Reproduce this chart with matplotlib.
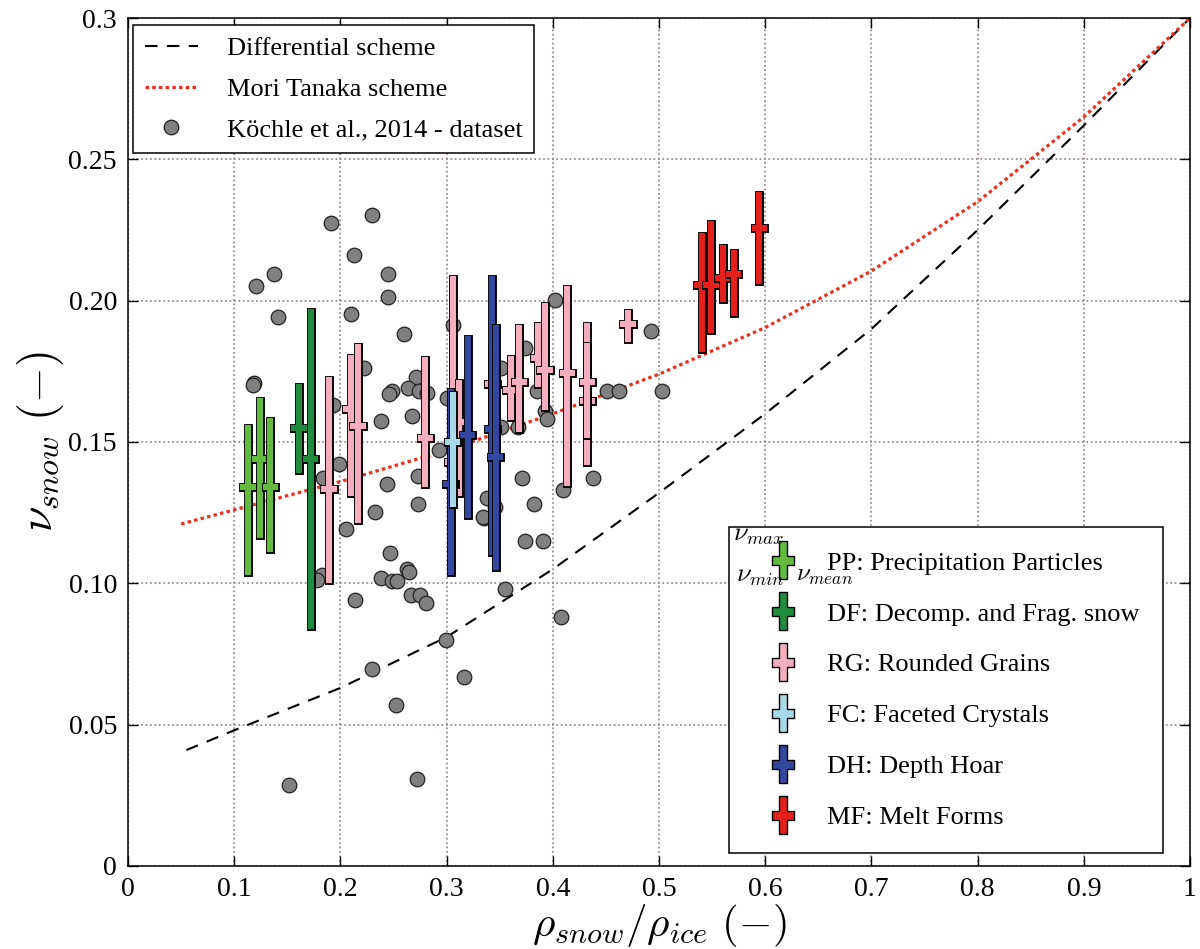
import numpy as np
import matplotlib
matplotlib.use("Agg")
import matplotlib.pyplot as plt
import matplotlib.patheffects as pe
from matplotlib.lines import Line2D

plt.rcParams['font.family'] = ['Liberation Serif', 'DejaVu Serif']
plt.rcParams['mathtext.fontset'] = 'cm'

# model curves
curve_x = [0.055, 0.1, 0.2, 0.3, 0.4, 0.5, 0.6, 0.7, 0.8, 0.9, 1.0]
diff_y = [0.041, 0.048, 0.063, 0.081, 0.105, 0.132, 0.160, 0.190, 0.225, 0.262, 0.300]
mt_x = [0.05, 0.1, 0.2, 0.3, 0.4, 0.5, 0.6, 0.7, 0.8, 0.9, 1.0]
mt_y = [0.121, 0.126, 0.136, 0.147, 0.160, 0.174, 0.1905, 0.2105, 0.235, 0.265, 0.300]

# Köchle et al. 2014 dataset
k_x = [0.1912, 0.2294, 0.2128, 0.1375, 0.1202, 0.2448, 0.2448, 0.1409, 0.2097, 0.2596,
       0.1189, 0.1174, 0.2222, 0.2712, 0.2640, 0.2740, 0.2812, 0.2483, 0.2461, 0.1933,
       0.2379, 0.2677, 0.2928, 0.1990, 0.1833, 0.2436, 0.2728, 0.2731, 0.2323, 0.2053,
       0.2467, 0.2624, 0.2649, 0.2379, 0.2483, 0.2536, 0.2662, 0.2752, 0.2806, 0.2141,
       0.1824, 0.1777, 0.2294, 0.2520, 0.1516, 0.2718, 0.3352, 0.3738, 0.3911, 0.3550,
       0.4074, 0.2994, 0.3167, 0.4021, 0.4925, 0.4507, 0.4627, 0.5031, 0.3738, 0.3512,
       0.3848, 0.3927, 0.3948, 0.3669, 0.3512, 0.3057, 0.3001, 0.3707, 0.4376, 0.4093,
       0.3823, 0.3384, 0.3456, 0.3346]
k_y = [0.2274, 0.2303, 0.2162, 0.2093, 0.2052, 0.2093, 0.2012, 0.1943, 0.1952, 0.1882,
       0.1710, 0.1702, 0.1761, 0.1731, 0.1692, 0.1682, 0.1674, 0.1680, 0.1670, 0.1631,
       0.1573, 0.1592, 0.1472, 0.1422, 0.1372, 0.1351, 0.1381, 0.1281, 0.1251, 0.1191,
       0.1108, 0.1050, 0.1041, 0.1020, 0.1009, 0.1008, 0.0959, 0.0959, 0.0929, 0.0941,
       0.1030, 0.1012, 0.0698, 0.0570, 0.0287, 0.0307, 0.1230, 0.1150, 0.1150, 0.0979,
       0.0880, 0.0800, 0.0670, 0.2002, 0.1893, 0.1682, 0.1682, 0.1682, 0.1832, 0.1761,
       0.1682, 0.1611, 0.1580, 0.1552, 0.1552, 0.1914, 0.1655, 0.1372, 0.1372, 0.1330,
       0.1281, 0.1301, 0.1271, 0.1236]

# grain types: density ratio, nu min, nu max, nu mean
pp_x = [0.113, 0.124, 0.134]
pp_min = [0.104, 0.117, 0.112]
pp_max = [0.155, 0.1645, 0.1575]
pp_mean = [0.134, 0.144, 0.134]

df_x = [0.161, 0.172]
df_min = [0.140, 0.085]
df_max = [0.1695, 0.196]
df_mean = [0.155, 0.144]

rg_x = [0.189, 0.210, 0.2165, 0.280, 0.3057, 0.312, 0.343, 0.3606, 0.3685, 0.3864,
        0.3927, 0.4137, 0.4325, 0.4325, 0.471]
rg_min = [0.101, 0.132, 0.1224, 0.135, 0.132, 0.132, 0.158, 0.1587, 0.1545, 0.1705,
          0.1625, 0.1354, 0.143, 0.1525, 0.1866]
rg_max = [0.1719, 0.1798, 0.1837, 0.179, 0.2075, 0.171, 0.183, 0.1792, 0.1902, 0.1912,
          0.1982, 0.204, 0.191, 0.184, 0.1955]
rg_mean = [0.1334, 0.1618, 0.1557, 0.1515, 0.143, 0.157, 0.1705, 0.1685, 0.1713, 0.1796,
           0.1755, 0.1743, 0.1645, 0.1711, 0.1917]

dh_x = [0.3038, 0.3198, 0.343, 0.3462]
dh_min = [0.1041, 0.1242, 0.1112, 0.1057]
dh_max = [0.1678, 0.1864, 0.2075, 0.1904]
dh_mean = [0.1351, 0.1525, 0.1545, 0.1446]

fc_x = [0.3057]
fc_min = [0.128]
fc_max = [0.1666]
fc_mean = [0.1499]

mf_x = [0.5405, 0.549, 0.560, 0.5703, 0.5945]
mf_min = [0.1828, 0.1896, 0.2005, 0.1957, 0.2071]
mf_max = [0.2229, 0.2271, 0.2188, 0.2170, 0.2374]
mf_mean = [0.2055, 0.2055, 0.2079, 0.2096, 0.2257]

c_pp = '#62bb3e'
c_df = '#1f8b3b'
c_rg = '#f4aec0'
c_fc = '#a9d9e8'
c_dh = '#34479f'
c_mf = '#e3201b'


def draw_crosses(ax, xs, lo, hi, mean, color, arm=0.0045):
    for x, a, b, m in zip(xs, lo, hi, mean):
        ln, = ax.plot([x, x, np.nan, x - arm, x + arm], [a, b, np.nan, m, m],
                      color=color, lw=4.4, solid_capstyle='projecting',
                      solid_joinstyle='miter', zorder=3)
        ln.set_path_effects([pe.Stroke(linewidth=6.4, foreground='k'), pe.Normal()])


fig = plt.figure(figsize=(12, 9.49), dpi=100)
ax = fig.add_axes([0.1067, 0.0875, 0.885, 0.8935])

ax.grid(True, linestyle=':', color='#8f7f7f', linewidth=1.2)
ax.set_axisbelow(True)

l_diff, = ax.plot(curve_x, diff_y, color='k', lw=1.5, dashes=(6, 4.5), zorder=2)
l_mt, = ax.plot(mt_x, mt_y, color='#e8321e', lw=2.3, dashes=(1.1, 1.0), zorder=2)
sc, = ax.plot(k_x, k_y, 'o', color='#808080', markeredgecolor='#222222',
              markeredgewidth=0.9, markersize=10.5, linestyle='none', zorder=2.5)

draw_crosses(ax, pp_x, pp_min, pp_max, pp_mean, c_pp)
draw_crosses(ax, df_x, df_min, df_max, df_mean, c_df)
draw_crosses(ax, rg_x, rg_min, rg_max, rg_mean, c_rg)
draw_crosses(ax, dh_x, dh_min, dh_max, dh_mean, c_dh)
draw_crosses(ax, fc_x, fc_min, fc_max, fc_mean, c_fc)
draw_crosses(ax, mf_x, mf_min, mf_max, mf_mean, c_mf)

ax.set_xlim(0, 1)
ax.set_ylim(0, 0.3)
ax.set_xticks([0, 0.1, 0.2, 0.3, 0.4, 0.5, 0.6, 0.7, 0.8, 0.9, 1.0])
ax.set_xticklabels(['0', '0.1', '0.2', '0.3', '0.4', '0.5', '0.6', '0.7', '0.8', '0.9', '1'])
ax.set_yticks([0, 0.05, 0.10, 0.15, 0.20, 0.25, 0.3])
ax.set_yticklabels(['0', '0.05', '0.10', '0.15', '0.20', '0.25', '0.3'])
ax.tick_params(direction='in', top=True, right=True, length=7, width=1,
               labelsize=20, pad=8)
for s in ax.spines.values():
    s.set_linewidth(1.1)

ax.set_xlabel(r'$\rho_{snow}/\rho_{ice}\ (-)$', fontsize=31, labelpad=0)
ax.set_ylabel(r'$\nu_{snow}\ (-)$', fontsize=33, labelpad=2)

leg1 = ax.legend([l_diff, l_mt, sc],
                 ['Differential scheme', 'Mori Tanaka scheme', 'Köchle et al., 2014 - dataset'],
                 loc='upper left', bbox_to_anchor=(0.0047, 0.9917), borderaxespad=0,
                 fontsize=19, numpoints=1, handlelength=2.0, handletextpad=1.1,
                 borderpad=0.45, labelspacing=0.64, fancybox=False, framealpha=1,
                 edgecolor='k')
leg1.get_frame().set_linewidth(1.1)
ax.add_artist(leg1)

w, t, a = 0.095, 0.12, 0.28
cross = [(-w, -0.5), (w, -0.5), (w, -t), (a, -t), (a, t), (w, t), (w, 0.5),
         (-w, 0.5), (-w, t), (-a, t), (-a, -t), (-w, -t), (-w, -0.5)]
names = ['PP: Precipitation Particles', 'DF: Decomp. and Frag. snow', 'RG: Rounded Grains',
         'FC: Faceted Crystals', 'DH: Depth Hoar', 'MF: Melt Forms']
colors = [c_pp, c_df, c_rg, c_fc, c_dh, c_mf]
handles = [Line2D([], [], marker=cross, markersize=27, markerfacecolor=c,
                  markeredgecolor='k', markeredgewidth=1.0, linestyle='none')
           for c in colors]
leg2 = ax.legend(handles, names, loc='lower right', bbox_to_anchor=(0.9746, 0.0153),
                 borderaxespad=0, fontsize=19, handlelength=2.3, handletextpad=0.5,
                 borderpad=0.9, labelspacing=1.04, fancybox=False, framealpha=1,
                 edgecolor='k')
leg2.get_frame().set_linewidth(1.1)

ax.text(0.594, 0.389, r'$\nu_{max}$', transform=ax.transAxes, fontsize=19,
        ha='center', va='center', zorder=6)
ax.text(0.595, 0.341, r'$\nu_{min}$', transform=ax.transAxes, fontsize=19,
        ha='center', va='center', zorder=6)
ax.text(0.656, 0.342, r'$\nu_{mean}$', transform=ax.transAxes, fontsize=18,
        ha='center', va='center', zorder=6)

fig.savefig('out.png', dpi=100)
